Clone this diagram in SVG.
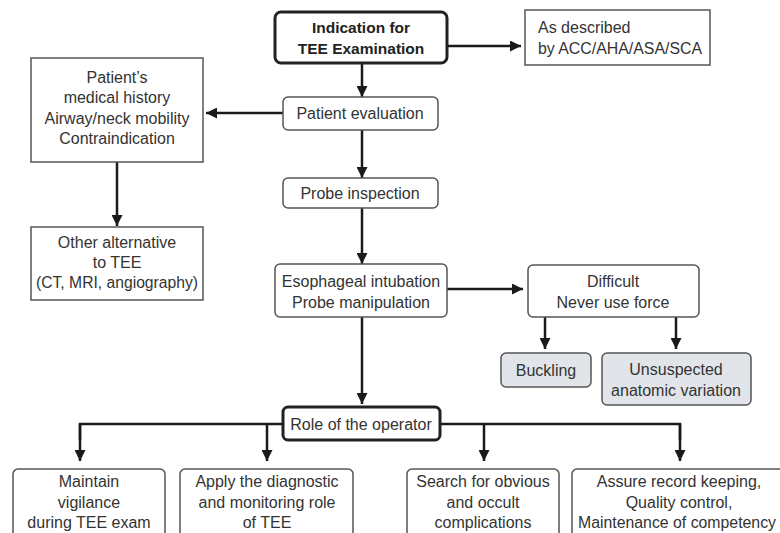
<svg xmlns="http://www.w3.org/2000/svg" width="780" height="533" viewBox="0 0 780 533">
<defs>
<marker id="ah" viewBox="0 0 10 10" refX="10" refY="5" markerWidth="11" markerHeight="11" markerUnits="userSpaceOnUse" orient="auto">
<path d="M0,0 L10,5 L0,10 Z" fill="#1a1a1a"/>
</marker>
<style>
text{font-family:"Liberation Sans","Open Sans",sans-serif;font-size:16px;fill:#333;text-anchor:middle}
.b{font-weight:bold;fill:#222;font-size:15.5px}
.box{fill:#fff;stroke:#555;stroke-width:1.5}
.thick{fill:#fff;stroke:#222;stroke-width:3}
.gray{fill:#e1e5ea;stroke:#555;stroke-width:1.5}
.c{fill:none;stroke:#1a1a1a;stroke-width:2.5}
.ca{fill:none;stroke:#1a1a1a;stroke-width:2.5;marker-end:url(#ah)}
</style>
</defs>
<rect width="780" height="533" fill="#fff"/>
<g id="connectors">
<line class="ca" x1="447" y1="46" x2="521" y2="46"/>
<line class="ca" x1="362" y1="63" x2="362" y2="97"/>
<line class="ca" x1="283" y1="113" x2="206" y2="113"/>
<line class="ca" x1="117" y1="162" x2="117" y2="226"/>
<line class="ca" x1="362" y1="130" x2="362" y2="178"/>
<line class="ca" x1="362" y1="208" x2="362" y2="264"/>
<line class="ca" x1="447" y1="289" x2="523" y2="289"/>
<line class="ca" x1="545" y1="317" x2="545" y2="349"/>
<line class="ca" x1="676" y1="317" x2="676" y2="349"/>
<line class="ca" x1="362" y1="317" x2="362" y2="404"/>
<polyline class="c" points="283,424 80,424 80,440"/>
<polyline class="c" points="440,424 680,424 680,440"/>
<line class="ca" x1="80" y1="424" x2="80" y2="461"/>
<line class="ca" x1="267" y1="424" x2="267" y2="461"/>
<line class="ca" x1="484" y1="424" x2="484" y2="461"/>
<line class="ca" x1="680" y1="424" x2="680" y2="461"/>
</g>
<g id="indication">
<rect class="thick" x="275" y="12" width="172" height="51" rx="6"/>
<text class="b" x="361" y="33">Indication for</text>
<text class="b" x="361" y="54">TEE Examination</text>
</g>
<g id="described">
<rect class="box" x="525" y="10" width="185" height="55"/>
<text x="538" y="33" style="text-anchor:start">As described</text>
<text x="538" y="54" style="text-anchor:start" textLength="164" lengthAdjust="spacingAndGlyphs">by ACC/AHA/ASA/SCA</text>
</g>
<g id="patient-eval">
<rect class="box" x="283" y="97" width="155" height="33" rx="5"/>
<text x="360" y="119">Patient evaluation</text>
</g>
<g id="history">
<rect class="box" x="31" y="58" width="172" height="104"/>
<text x="117" y="83">Patient’s</text>
<text x="117" y="103">medical history</text>
<text x="117" y="124">Airway/neck mobility</text>
<text x="117" y="144">Contraindication</text>
</g>
<g id="alternative">
<rect class="box" x="31" y="227" width="172" height="73"/>
<text x="117" y="248">Other alternative</text>
<text x="117" y="268">to TEE</text>
<text x="117" y="288" textLength="162" lengthAdjust="spacingAndGlyphs">(CT, MRI, angiography)</text>
</g>
<g id="probe-inspection">
<rect class="box" x="283" y="178" width="155" height="30" rx="5"/>
<text x="360" y="199">Probe inspection</text>
</g>
<g id="intubation">
<rect class="box" x="275" y="264" width="172" height="53" rx="5"/>
<text x="361" y="287">Esophageal intubation</text>
<text x="361" y="308">Probe manipulation</text>
</g>
<g id="difficult">
<rect class="box" x="528" y="265" width="171" height="52" rx="5"/>
<text x="613" y="287">Difficult</text>
<text x="613" y="308">Never use force</text>
</g>
<g id="buckling">
<rect class="gray" x="501" y="353" width="90" height="34" rx="5"/>
<text x="546" y="376">Buckling</text>
</g>
<g id="variation">
<rect class="gray" x="602" y="353" width="149" height="52" rx="5"/>
<text x="676" y="375">Unsuspected</text>
<text x="676" y="396">anatomic variation</text>
</g>
<g id="role">
<rect class="thick" x="283" y="407" width="157" height="33" rx="5"/>
<text x="361" y="430">Role of the operator</text>
</g>
<g id="vigilance">
<rect class="box" x="13" y="469" width="152" height="80" rx="5"/>
<text x="89" y="487">Maintain</text>
<text x="89" y="508">vigilance</text>
<text x="89" y="528">during TEE exam</text>
</g>
<g id="diagnostic">
<rect class="box" x="180" y="469" width="173" height="80" rx="5"/>
<text x="267" y="487">Apply the diagnostic</text>
<text x="267" y="508">and monitoring role</text>
<text x="267" y="528">of  TEE</text>
</g>
<g id="complications">
<rect class="box" x="407" y="469" width="152" height="80" rx="5"/>
<text x="483" y="487">Search for obvious</text>
<text x="483" y="508">and occult</text>
<text x="483" y="528">complications</text>
</g>
<g id="record">
<rect class="box" x="572" y="469" width="215" height="80" rx="5"/>
<text x="679" y="487">Assure record keeping,</text>
<text x="679" y="508">Quality control,</text>
<text x="677" y="528" textLength="198" lengthAdjust="spacingAndGlyphs">Maintenance of competency</text>
</g>
</svg>
